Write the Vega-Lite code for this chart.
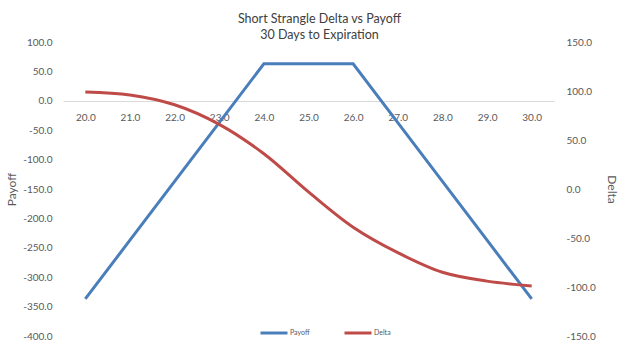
{
  "$schema": "https://vega.github.io/schema/vega-lite/v6.json",
  "autosize": {"type": "none"},
  "padding": {"left": 63, "top": 42, "right": 86, "bottom": 16},
  "width": 491,
  "height": 294,
  "background": "white",
  "config": {
    "view": {"stroke": null},
    "font": "Lato",
    "axis": {"labelColor": "#595959", "titleColor": "#595959", "labelFont": "Lato", "titleFont": "Lato", "labelFontSize": 10, "titleFontSize": 12, "titleFontWeight": "normal", "ticks": false, "grid": false}
  },
  "title": {
    "text": ["Short Strangle Delta vs Payoff", "30 Days to Expiration"],
    "font": "Lato",
    "fontSize": 12.5,
    "fontWeight": "normal",
    "color": "#404040",
    "lineHeight": 16,
    "anchor": "middle",
    "frame": "group",
    "dx": 11,
    "offset": -4
  },
  "data": {
    "values": [
      {"strike": "20.0", "payoff": -337, "delta": 99},
      {"strike": "21.0", "payoff": -237, "delta": 96},
      {"strike": "22.0", "payoff": -137, "delta": 86},
      {"strike": "23.0", "payoff": -37, "delta": 66},
      {"strike": "24.0", "payoff": 63, "delta": 36},
      {"strike": "25.0", "payoff": 63, "delta": -3},
      {"strike": "26.0", "payoff": 63, "delta": -39},
      {"strike": "27.0", "payoff": -37, "delta": -65},
      {"strike": "28.0", "payoff": -137, "delta": -85},
      {"strike": "29.0", "payoff": -237, "delta": -94},
      {"strike": "30.0", "payoff": -337, "delta": -99}
    ]
  },
  "encoding": {
    "x": {
      "field": "strike",
      "type": "ordinal",
      "sort": null,
      "scale": {"type": "point", "padding": 0.5},
      "axis": {"title": null, "labelAngle": 0, "offset": -235, "domainColor": "#d9d9d9", "domainWidth": 1, "labelPadding": 11}
    }
  },
  "layer": [
    {
      "mark": {"type": "line", "strokeWidth": 3, "interpolate": "linear"},
      "encoding": {
        "y": {
          "field": "payoff",
          "type": "quantitative",
          "scale": {"domain": [-400, 100], "nice": false, "zero": false},
          "axis": {"title": "Payoff", "values": [-400, -350, -300, -250, -200, -150, -100, -50, 0, 50, 100], "format": ".1f", "labelExpr": "replace(datum.label, '\u2212', '-')", "domain": false, "labelPadding": 11, "titlePadding": 4}
        },
        "color": {
          "datum": "Payoff",
          "scale": {"domain": ["Payoff", "Delta"], "range": ["#4a7ebb", "#be4b48"]},
          "legend": {
            "title": null,
            "orient": "none",
            "direction": "horizontal",
            "legendX": 196,
            "legendY": 276,
            "symbolType": "stroke",
            "symbolStrokeWidth": 3,
            "symbolSize": 729,
            "labelFont": "Lato",
            "labelFontSize": 7,
            "labelColor": "#595959",
            "columnPadding": 28,
            "labelOffset": 1
          }
        }
      }
    },
    {
      "mark": {"type": "line", "strokeWidth": 3, "interpolate": "catmull-rom"},
      "encoding": {
        "y": {
          "field": "delta",
          "type": "quantitative",
          "scale": {"domain": [-150, 150], "nice": false, "zero": false},
          "axis": {"title": "Delta", "orient": "right", "values": [-150, -100, -50, 0, 50, 100, 150], "format": ".1f", "labelExpr": "replace(datum.label, '\u2212', '-')", "domain": false, "labelPadding": 12, "titlePadding": 9}
        },
        "color": {"datum": "Delta"}
      }
    }
  ],
  "resolve": {"scale": {"y": "independent"}}
}
